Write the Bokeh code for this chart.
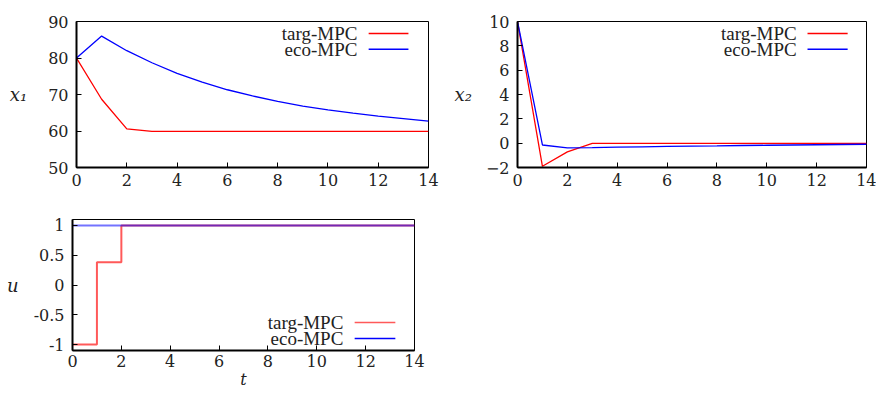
from bokeh.plotting import figure
from bokeh.layouts import column, row
from bokeh.models import FixedTicker, Range1d, Label
from bokeh.embed import file_html
from bokeh.resources import INLINE

# ---------------- data ----------------
t = list(range(15))
x1_targ = [80.0, 68.7, 60.6, 59.9, 59.9, 59.9, 59.9, 59.9, 59.9, 59.9, 59.9, 59.9, 59.9, 59.9, 59.9]
x1_eco = [80.0, 86.0, 82.0, 78.7, 75.8, 73.4, 71.3, 69.6, 68.1, 66.8, 65.8, 64.9, 64.1, 63.4, 62.7]
x2_targ = [10.0, -1.9, -0.72, -0.02, -0.02, -0.02, -0.02, -0.02, -0.02, -0.02, -0.02, -0.02, -0.02, -0.02, -0.02]
x2_eco = [10.0, -0.15, -0.38, -0.36, -0.33, -0.30, -0.27, -0.24, -0.22, -0.19, -0.17, -0.15, -0.13, -0.11, -0.09]
u_targ = [-1.0, 0.38, 1.0, 1.0, 1.0, 1.0, 1.0, 1.0, 1.0, 1.0, 1.0, 1.0, 1.0, 1.0, 1.0]
u_eco = [1.0] * 15

x_ticks = [0, 2, 4, 6, 8, 10, 12, 14]
x1_ticks = [50, 60, 70, 80, 90]
x2_ticks = [-2, 0, 2, 4, 6, 8, 10]
u_ticks = [-1, -0.5, 0, 0.5, 1]
u_tick_labels = ["-1", "-0.5", "0", "0.5", "1"]
series_names = ["targ-MPC", "eco-MPC"]

FONT = "Liberation Serif"      # legend (annotation) font
AX_FONT = "DejaVu Serif"       # axis font
FS = "19px"
AX_FS = "16px"
TXT = "#222222"


def make_fig(w, h, bl, br, bt, bb, xr, yr, yticks, ylabel, ylab_standoff,
             xlabel=None):
    p = figure(width=w, height=h, output_backend="svg", toolbar_location=None,
               x_range=Range1d(*xr), y_range=Range1d(*yr),
               min_border_left=bl, min_border_right=br,
               min_border_top=bt, min_border_bottom=bb)
    p.grid.visible = False
    p.outline_line_color = "black"
    p.outline_line_width = 1
    p.background_fill_color = "white"
    p.border_fill_color = "white"
    p.axis.axis_line_width = 2
    p.axis.axis_line_color = "black"
    p.axis.major_tick_in = 5
    p.axis.major_tick_out = 0
    p.axis.major_tick_line_color = "black"
    p.axis.minor_tick_line_color = None
    for ax in p.axis:
        ax.major_label_text_font = AX_FONT
        ax.axis_label_text_font = AX_FONT
        ax.major_label_text_font_style = "normal"
    p.axis.major_label_text_font_size = AX_FS
    p.axis.major_label_text_color = TXT
    p.xaxis.ticker = FixedTicker(ticks=x_ticks)
    p.yaxis.ticker = FixedTicker(ticks=yticks)
    p.xaxis.major_label_standoff = 6
    p.yaxis.major_label_standoff = 8
    p.yaxis.axis_label = ylabel
    p.yaxis.axis_label_text_font_size = "18px"
    p.yaxis.axis_label_text_font_style = "italic"
    p.yaxis.axis_label_text_color = TXT
    p.yaxis.axis_label_orientation = "horizontal"
    p.yaxis.axis_label_standoff = ylab_standoff
    if xlabel:
        p.xaxis.major_label_standoff = 4
        p.xaxis.axis_label = xlabel
        p.xaxis.axis_label_text_font_size = "16px"
        p.xaxis.axis_label_text_font_style = "italic"
        p.xaxis.axis_label_text_color = TXT
        p.xaxis.axis_label_standoff = 0
    return p


def add_legend(p, xr, yr, text_fx, line_fx0, line_fx1, fys, colors, alphas):
    x0, x1 = xr
    y0, y1 = yr
    for name, fy, c, a in zip(series_names, fys, colors, alphas):
        yy = y1 - fy * (y1 - y0)
        p.add_layout(Label(x=x0 + text_fx * (x1 - x0), y=yy, text=name,
                           text_font=FONT, text_font_size=FS,
                           text_align="right", text_baseline="middle",
                           text_color=TXT))
        p.line([x0 + line_fx0 * (x1 - x0), x0 + line_fx1 * (x1 - x0)], [yy, yy],
               line_color=c, line_width=1.5, line_alpha=a)


# ---- panel 1 ----
xr = (0, 14)
yr1 = (50, 90)
p1 = make_fig(448, 198, 76, 20, 21, 31, xr, yr1, x1_ticks, "x₁", 18)
p1.line(t, x1_targ, line_color="red", line_width=1.3)
p1.line(t, x1_eco, line_color="blue", line_width=1.3)
add_legend(p1, xr, yr1, 0.798, 0.83, 0.943, [0.082, 0.19], ["red", "blue"], [1, 1])

# ---- panel 2 ----
yr2 = (-2, 10)
p2 = make_fig(428, 198, 69, 10, 21, 31, xr, yr2, x2_ticks, "x₂", 11)
p2.line(t, x2_targ, line_color="red", line_width=1.3)
p2.line(t, x2_eco, line_color="blue", line_width=1.3)
add_legend(p2, xr, yr2, 0.80, 0.831, 0.946, [0.082, 0.19], ["red", "blue"], [1, 1])

# ---- panel 3 ----
yr3 = (-1.1, 1.1)
p3 = make_fig(448, 195, 72, 34, 21, 43, xr, yr3, u_ticks, "u", 12, xlabel="t")
p3.yaxis.major_label_overrides = {tk: lb for tk, lb in zip(u_ticks, u_tick_labels)}
p3.step(t, u_targ, mode="after", line_color="red", line_width=2, line_alpha=0.65)
p3.step(t, u_eco, mode="after", line_color="blue", line_width=2, line_alpha=0.55)
add_legend(p3, xr, yr3, 0.792, 0.825, 0.944, [0.786, 0.908], ["red", "blue"], [0.65, 1])

layout = column(row(p1, p2), p3)
open("out.html", "w").write(file_html(layout, INLINE))
